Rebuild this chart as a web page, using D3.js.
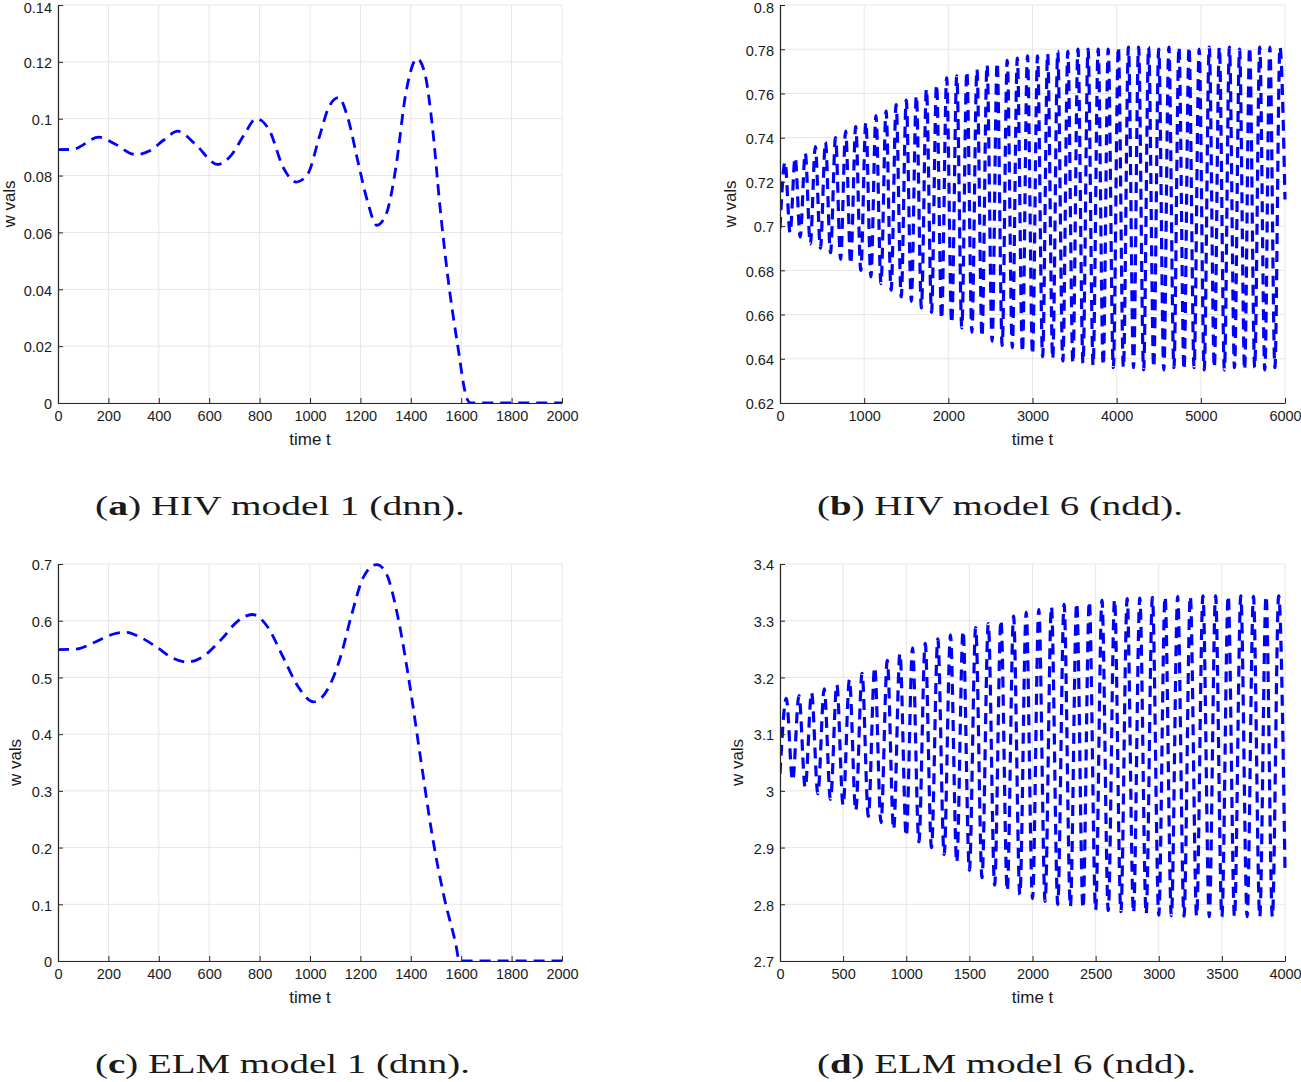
<!DOCTYPE html>
<html>
<head>
<meta charset="utf-8">
<script src="https://cdn.jsdelivr.net/npm/d3@7"></script>
<style>
  html, body { margin: 0; padding: 0; background: #fff; }
  svg { display: block; }
</style>
</head>
<body>
<svg id="chart" width="1301" height="1082"></svg>
<script>
// ---------- DATA ----------
// (a) HIV model 1 (dnn)
const aT = [0, 56, 163, 224, 307, 368, 421, 475, 543, 634, 687, 741, 786, 839, 893, 946, 992, 1037, 1075, 1113, 1151, 1189, 1227, 1265, 1303, 1341, 1380, 1425, 1456, 1486, 1516, 1547, 1585, 1623, 1638, 2000];
const aW = [0.0891, 0.0892, 0.0935, 0.0912, 0.0874, 0.0889, 0.0926, 0.0956, 0.0912, 0.0839, 0.0871, 0.0947, 0.1000, 0.0959, 0.0830, 0.0777, 0.0807, 0.0936, 0.1041, 0.1074, 0.1000, 0.0854, 0.0713, 0.0625, 0.0666, 0.0830, 0.1088, 0.1211, 0.1158, 0.0970, 0.0689, 0.0443, 0.0209, 0.0015, 0, 0];

// (b) HIV model 6 (ndd)
const bT = [0,60,120,180,240,300,360,420,480,540,600,660,720,780,840,900,960,1020,1080,1140,1200,1260,1320,1380,1440,1500,1560,1620,1680,1740,1800,1860,1920,1980,2040,2100,2160,2220,2280,2340,2400,2460,2520,2580,2640,2700,2760,2820,2880,2940,3000,3060,3120,3180,3240,3300,3360,3420,3480,3540,3600,3660,3720,3780,3840,3900,3960,4020,4080,4140,4200,4260,4320,4380,4440,4500,4560,4620,4680,4740,4800,4860,4920,4980,5040,5100,5160,5220,5280,5340,5400,5460,5520,5580,5640,5700,5760,5820,5880,5940,6000];
const bW = [
  0.699,0.729,0.697,0.731,0.695,0.733,0.692,0.736,0.690,0.738,
  0.688,0.740,0.685,0.743,0.683,0.745,0.680,0.747,0.677,0.750,
  0.674,0.752,0.671,0.755,0.668,0.757,0.666,0.759,0.663,0.762,
  0.661,0.764,0.658,0.767,0.656,0.768,0.654,0.770,0.652,0.771,
  0.650,0.773,0.648,0.774,0.646,0.775,0.645,0.776,0.643,0.777,
  0.642,0.777,0.641,0.778,0.640,0.779,0.639,0.779,0.638,0.780,
  0.638,0.780,0.637,0.780,0.637,0.780,0.636,0.781,0.636,0.781,
  0.636,0.781,0.635,0.781,0.636,0.780,0.635,0.781,0.636,0.781,
  0.635,0.781,0.636,0.780,0.635,0.781,0.636,0.781,0.635,0.781,
  0.636,0.780,0.635,0.781,0.636,0.781,0.635,0.781,0.636,0.781,
  0.712];

// (c) ELM model 1 (dnn)
const cT = [0, 71, 148, 224, 269, 330, 391, 452, 513, 573, 650, 710, 771, 832, 893, 954, 1014, 1075, 1121, 1166, 1212, 1265, 1303, 1349, 1395, 1440, 1486, 1532, 1578, 1593, 2000];
const cW = [0.549, 0.550, 0.5625, 0.577, 0.5796, 0.570, 0.5537, 0.535, 0.527, 0.536, 0.568, 0.598, 0.611, 0.589, 0.536, 0.483, 0.457, 0.483, 0.536, 0.612, 0.677, 0.699, 0.683, 0.606, 0.489, 0.354, 0.219, 0.113, 0.031, 0, 0];

// (d) ELM model 6 (ndd)
const dT = [0,50,100,150,200,250,300,350,400,450,500,550,600,650,700,750,800,850,900,950,1000,1050,1100,1150,1200,1250,1300,1350,1400,1450,1500,1550,1600,1650,1700,1750,1800,1850,1900,1950,2000,2050,2100,2150,2200,2250,2300,2350,2400,2450,2500,2550,2600,2650,2700,2750,2800,2850,2900,2950,3000,3050,3100,3150,3200,3250,3300,3350,3400,3450,3500,3550,3600,3650,3700,3750,3800,3850,3900,3950,4000];
const dW = [
  3.030,3.163,3.018,3.168,3.006,3.173,2.995,3.180,2.985,3.187,
  2.975,3.196,2.965,3.207,2.955,3.218,2.944,3.230,2.932,3.242,
  2.920,3.252,2.910,3.260,2.900,3.268,2.888,3.275,2.874,3.282,
  2.860,3.288,2.847,3.295,2.834,3.301,2.824,3.308,2.817,3.315,
  2.810,3.320,2.805,3.325,2.800,3.329,2.796,3.331,2.793,3.334,
  2.790,3.336,2.789,3.337,2.787,3.339,2.785,3.340,2.783,3.341,
  2.781,3.342,2.780,3.343,2.779,3.343,2.779,3.344,2.778,3.344,
  2.778,3.344,2.778,3.344,2.778,3.343,2.778,3.344,2.778,3.344,
  2.860];

// tick labels
const xTicks2000 = [0, 200, 400, 600, 800, 1000, 1200, 1400, 1600, 1800, 2000];
const xTicks6000 = [0, 1000, 2000, 3000, 4000, 5000, 6000];
const xTicks4000 = [0, 500, 1000, 1500, 2000, 2500, 3000, 3500, 4000];
const yTicksA = [0, 0.02, 0.04, 0.06, 0.08, 0.1, 0.12, 0.14];
const yTicksB = [0.62, 0.64, 0.66, 0.68, 0.7, 0.72, 0.74, 0.76, 0.78, 0.8];
const yTicksC = [0, 0.1, 0.2, 0.3, 0.4, 0.5, 0.6, 0.7];
const yTicksD = [2.7, 2.8, 2.9, 3, 3.1, 3.2, 3.3, 3.4];

const xLabel = "time t";
const yLabel = "w vals";
const captionLetters = ["a", "b", "c", "d"];
const captionTexts = [") HIV model 1 (dnn).", ") HIV model 6 (ndd).", ") ELM model 1 (dnn).", ") ELM model 6 (ndd)."];

// ---------- LAYOUT ----------
const svg = d3.select("#chart");
const fmt = v => String(+v.toFixed(4));
const SANS = "'Liberation Sans', Arial, Helvetica, sans-serif";

const panels = [
  {t: aT, w: aW, xd: [0, 2000], yd: [0, 0.14], xt: xTicks2000, yt: yTicksA,
   L: 58, R: 562, T: 5, B: 403, ylx: 9, capX: 95, capY: 515, capW: 370, lw: 2.8},
  {t: bT, w: bW, xd: [0, 6000], yd: [0.62, 0.8], xt: xTicks6000, yt: yTicksB,
   L: 780, R: 1285, T: 5, B: 403, ylx: 730, capX: 817, capY: 515, capW: 366, lw: 3.2},
  {t: cT, w: cW, xd: [0, 2000], yd: [0, 0.7], xt: xTicks2000, yt: yTicksC,
   L: 58, R: 562, T: 564, B: 961, ylx: 15, capX: 95, capY: 1073, capW: 375, lw: 2.8},
  {t: dT, w: dW, xd: [0, 4000], yd: [2.7, 3.4], xt: xTicks4000, yt: yTicksD,
   L: 780, R: 1285, T: 564, B: 961, ylx: 737, capX: 817, capY: 1073, capW: 379, lw: 3.2}
];

panels.forEach((p, i) => {
  const x = d3.scaleLinear().domain(p.xd).range([p.L, p.R]);
  const y = d3.scaleLinear().domain(p.yd).range([p.B, p.T]);
  const g = svg.append("g");

  // grid
  g.append("g").selectAll("line").data(p.xt).join("line")
    .attr("x1", d => x(d)).attr("x2", d => x(d))
    .attr("y1", p.T).attr("y2", p.B)
    .attr("stroke", "#e6e6e6").attr("stroke-width", 1);
  g.append("g").selectAll("line").data(p.yt).join("line")
    .attr("x1", p.L).attr("x2", p.R)
    .attr("y1", d => y(d)).attr("y2", d => y(d))
    .attr("stroke", "#e6e6e6").attr("stroke-width", 1);

  // data line
  const clipId = "clip" + i;
  svg.append("clipPath").attr("id", clipId).append("rect")
    .attr("x", p.L).attr("y", p.T - 3).attr("width", p.R - p.L + 3).attr("height", p.B - p.T + 3);
  const line = d3.line()
    .x(d => x(d[0])).y(d => y(d[1]))
    .curve(d3.curveMonotoneX);
  g.append("path")
    .datum(p.t.map((tv, k) => [tv, p.w[k]]))
    .attr("clip-path", `url(#${clipId})`)
    .attr("d", line)
    .attr("fill", "none")
    .attr("stroke", "#0000ff")
    .attr("stroke-width", p.lw)
    .attr("stroke-dasharray", "11,7");

  // axes
  const xAxis = d3.axisBottom(x).tickValues(p.xt).tickFormat(fmt)
    .tickSizeInner(-5).tickSizeOuter(0).tickPadding(9);
  const yAxis = d3.axisLeft(y).tickValues(p.yt).tickFormat(fmt)
    .tickSizeInner(-5).tickSizeOuter(0).tickPadding(6);
  const gx = g.append("g").attr("transform", `translate(0,${p.B})`).call(xAxis);
  const gy = g.append("g").attr("transform", `translate(${p.L},0)`).call(yAxis);
  [gx, gy].forEach(a => {
    a.attr("font-family", SANS).attr("font-size", 14.5);
    a.selectAll("path.domain").attr("stroke", "#262626").attr("stroke-width", 1.2);
    a.selectAll(".tick line").attr("stroke", "#262626").attr("stroke-width", 1);
    a.selectAll(".tick text").attr("fill", "#1a1a1a");
  });
  gx.selectAll(".tick text").attr("dy", "0.62em");
  gy.selectAll(".tick text").attr("dy", (d, k, n) => k === n.length - 1 && p.T < 10 ? "0.52em" : "0.4em");

  // axis labels
  g.append("text")
    .attr("x", (p.L + p.R) / 2).attr("y", p.B + 42)
    .attr("text-anchor", "middle")
    .attr("font-family", SANS)
    .attr("font-size", 17).attr("fill", "#1a1a1a")
    .text(xLabel);
  g.append("text")
    .attr("transform", `translate(${p.ylx + 6},${(p.T + p.B) / 2}) rotate(-90)`)
    .attr("text-anchor", "middle")
    .attr("font-family", SANS)
    .attr("font-size", 17).attr("fill", "#1a1a1a")
    .text(yLabel);

  // caption
  const cap = g.append("text")
    .attr("x", p.capX).attr("y", p.capY)
    .attr("font-family", "'Liberation Serif', 'Times New Roman', serif")
    .attr("font-size", 28).attr("fill", "#1a1a1a")
    .attr("textLength", p.capW).attr("lengthAdjust", "spacingAndGlyphs");
  cap.append("tspan").text("(");
  cap.append("tspan").attr("font-weight", "bold").text(captionLetters[i]);
  cap.append("tspan").text(captionTexts[i]);
});
</script>
</body>
</html>
